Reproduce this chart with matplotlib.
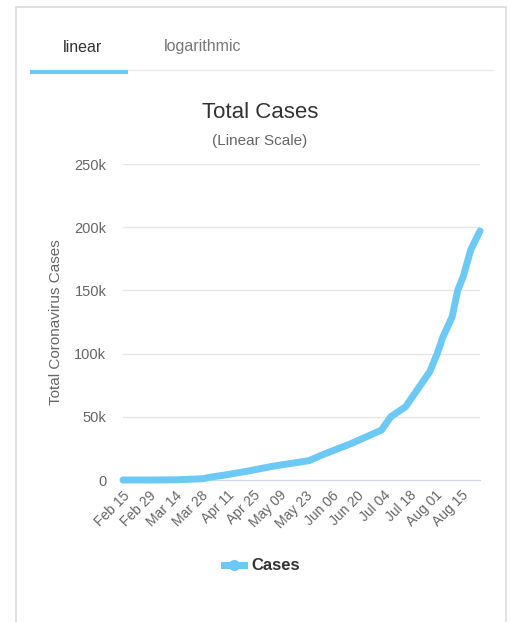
import pandas as pd
import matplotlib
matplotlib.use('Agg')
import matplotlib.pyplot as plt
import matplotlib.dates as mdates
from matplotlib.lines import Line2D
from matplotlib.patches import Rectangle
from matplotlib.ticker import FuncFormatter

plt.rcParams['font.family'] = ['Liberation Sans', 'DejaVu Sans']

# values
dates = ['2020-02-15', '2020-03-01', '2020-03-15', '2020-03-29', '2020-04-01',
         '2020-04-10', '2020-04-22', '2020-05-06', '2020-05-25', '2020-06-01',
         '2020-06-17', '2020-07-03', '2020-07-08', '2020-07-16', '2020-07-29',
         '2020-08-02', '2020-08-05', '2020-08-10', '2020-08-13', '2020-08-16',
         '2020-08-20', '2020-08-24', '2020-08-25']
cases = [0, 0, 200, 1000, 2000,
         4000, 7000, 11000, 15300, 19800,
         29000, 39500, 50000, 58000, 85700,
         100000, 113000, 129000, 150000, 161000,
         182000, 194000, 197000]
tick_dates = ['2020-02-15', '2020-02-29', '2020-03-14', '2020-03-28', '2020-04-11',
              '2020-04-25', '2020-05-09', '2020-05-23', '2020-06-06', '2020-06-20',
              '2020-07-04', '2020-07-18', '2020-08-01', '2020-08-15']
y_ticks = [0, 50000, 100000, 150000, 200000, 250000]

dates = pd.to_datetime(dates)
tick_dates = pd.to_datetime(tick_dates)
line_color = '#6cc8f5'

fig = plt.figure(figsize=(5.11, 6.22), dpi=100)

# card frame
fig.patches.append(Rectangle((16 / 511, -0.01), 490 / 511, 1 - 7 / 622 + 0.01,
                             transform=fig.transFigure, fill=False,
                             edgecolor='#dcdcdc', linewidth=1.2))

# tabs
fig.text(82 / 511, 1 - 47 / 622, 'linear', ha='center', va='center', fontsize=11.5, color='#333333')
fig.text(203 / 511, 1 - 47 / 622, 'logarithmic', ha='center', va='center', fontsize=11.5, color='#777777')
fig.lines.append(Line2D([128 / 511, 493 / 511], [1 - 70 / 622] * 2, transform=fig.transFigure,
                        color='#ececec', linewidth=1))
fig.lines.append(Line2D([30 / 511, 128 / 511], [1 - 71.5 / 622] * 2, transform=fig.transFigure,
                        color=line_color, linewidth=3, solid_capstyle='butt'))

# titles
fig.text(260 / 511, 1 - 112 / 622, 'Total Cases', ha='center', va='center', fontsize=16, color='#333333')
fig.text(260 / 511, 1 - 141 / 622, '(Linear Scale)', ha='center', va='center', fontsize=11, color='#666666')

ax = fig.add_axes([123 / 511, 1 - 480 / 622, 357 / 511, 316 / 622])
ax.plot(dates, cases, color=line_color, linewidth=5, solid_joinstyle='round',
        solid_capstyle='round', clip_on=False, zorder=3)

ax.set_ylim(0, 250000)
ax.set_xlim(pd.Timestamp('2020-02-15'), pd.Timestamp('2020-08-25'))
ax.set_yticks(y_ticks)
ax.yaxis.set_major_formatter(FuncFormatter(lambda v, p: '0' if v == 0 else '%dk' % (v / 1000)))
ax.set_xticks(tick_dates)
ax.xaxis.set_major_formatter(mdates.DateFormatter('%b %d'))
plt.setp(ax.get_xticklabels(), rotation=45, ha='right', rotation_mode='anchor')
ax.tick_params(axis='both', length=0, labelsize=10.5, colors='#666666')
ax.tick_params(axis='x', labelsize=10)
ax.tick_params(axis='y', pad=12)
ax.tick_params(axis='x', pad=6)
ax.grid(axis='y', color='#e6e6e6', linewidth=1)
ax.set_axisbelow(True)
for side in ['top', 'right', 'left']:
    ax.spines[side].set_visible(False)
ax.spines['bottom'].set_color('#ccd6eb')
ax.set_ylabel('Total Coronavirus Cases', fontsize=11, color='#666666', labelpad=8)

# legend
handle = Line2D([], [], color=line_color, linewidth=5, marker='o', markersize=7)
fig.legend([handle], ['Cases'], loc='center', bbox_to_anchor=(262 / 511, 1 - 566 / 622),
           frameon=False, handlelength=1.2, handletextpad=0.4,
           prop={'weight': 'bold', 'size': 12}, labelcolor='#333333')

fig.savefig('out.png', dpi=100)
